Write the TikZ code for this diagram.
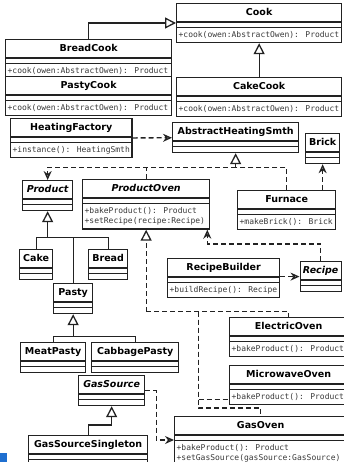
\documentclass[tikz,border=0pt]{standalone}
\usepackage{fontspec}
\setmainfont{DejaVu Sans}
\newfontfamily\opfamily{DejaVu Sans Mono}
\usepackage{xcolor}
\definecolor{lineDark}{HTML}{222222}
\definecolor{opGray}{HTML}{3A3A3A}
\definecolor{markBlue}{HTML}{1F6FD0}
\usetikzlibrary{
    shapes.multipart,
    arrows.meta,
    positioning,
    calc
}
\newcommand{\namefont}{\fontsize{9.5}{12}\selectfont\bfseries}
\newcommand{\cname}[1]{{\namefont\rule[-3.5pt]{0pt}{13pt}#1}}
\newcommand{\aname}[1]{{\namefont\itshape\rule[-3.5pt]{0pt}{13pt}#1}}
\newcommand{\op}{\opfamily\fontsize{8}{9}\selectfont\color{opGray}\rule[-2.5pt]{0pt}{9.5pt}}
\newcommand{\twoops}[2]{\vtop{\baselineskip=8.6pt\hbox{\op#1}\hbox{\op#2}}}
\newcommand{\noattr}{\rule{0pt}{0.5pt}}
\tikzset{
    % Class box - name, attributes, operations
    umlclass/.style={
        rectangle split,
        rectangle split parts=3,
        rectangle split part align={center,left,left},
        draw=lineDark,
        line width=1.3pt,
        fill=white,
        inner xsep=2pt,
        inner ysep=2pt,
        anchor=north west,
        minimum width=#1,
    },
    % Plain connector
    link/.style={
        draw=lineDark,
        line width=1.3pt,
    },
    % Dashed connector without tip
    dline/.style={
        link,
        dash pattern=on 5pt off 3pt,
    },
    % Generalisation - open triangle
    inherit/.style={
        link,
        -{Triangle[open, length=11pt, width=11pt, fill=white]},
    },
    % Realisation - dashed, open triangle
    realize/.style={
        inherit,
        dash pattern=on 5pt off 3pt,
    },
    % Dependency - dashed, open arrow
    depend/.style={
        dline,
        -{Stealth[open, length=9pt, width=8pt]},
    },
}
\begin{document}
\begin{tikzpicture}[x=1pt, y=-1pt]
    \useasboundingbox (0,0) rectangle (344,462);

    \node[umlclass=165pt] (cook) at (176,3) {\cname{Cook}\nodepart{two}\noattr\nodepart{three}\op+cook(owen:AbstractOwen): Product};
    \node[umlclass=166pt] (breadcook) at (5,39) {\cname{BreadCook}\nodepart{two}\noattr\nodepart{three}\op+cook(owen:AbstractOwen): Product};
    \node[umlclass=166pt] (pastycook) at (5,76) {\cname{PastyCook}\nodepart{two}\noattr\nodepart{three}\op+cook(owen:AbstractOwen): Product};
    \node[umlclass=165pt] (cakecook) at (176,77) {\cname{CakeCook}\nodepart{two}\noattr\nodepart{three}\op+cook(owen:AbstractOwen): Product};
    \node[umlclass=121pt] (heatingfactory) at (10,118) {\cname{HeatingFactory}\nodepart{two}\noattr\nodepart{three}\op+instance(): HeatingSmth};
    \node[umlclass=126pt] (abstractheating) at (172,122) {\cname{AbstractHeatingSmth}\nodepart{two}\noattr\nodepart{three}\noattr};
    \node[umlclass=34pt] (brick) at (305,133) {\cname{Brick}\nodepart{two}\noattr\nodepart{three}\noattr};
    \node[umlclass=98pt] (furnace) at (237,190) {\cname{Furnace}\nodepart{two}\noattr\nodepart{three}\op+makeBrick(): Brick};
    \node[umlclass=50pt] (product) at (22,180) {\aname{Product}\nodepart{two}\noattr\nodepart{three}\noattr};
    \node[umlclass=127pt] (productoven) at (82,179) {\aname{ProductOven}\nodepart{two}\noattr\nodepart{three}\twoops{+bakeProduct(): Product}{+setRecipe(recipe:Recipe)}};
    \node[umlclass=33pt] (cake) at (19,249) {\cname{Cake}\nodepart{two}\noattr\nodepart{three}\noattr};
    \node[umlclass=39pt] (bread) at (88,249) {\cname{Bread}\nodepart{two}\noattr\nodepart{three}\noattr};
    \node[umlclass=39pt] (pasty) at (53,283) {\cname{Pasty}\nodepart{two}\noattr\nodepart{three}\noattr};
    \node[umlclass=65pt] (meatpasty) at (20,342) {\cname{MeatPasty}\nodepart{two}\noattr\nodepart{three}\noattr};
    \node[umlclass=87pt] (cabbagepasty) at (91,342) {\cname{CabbagePasty}\nodepart{two}\noattr\nodepart{three}\noattr};
    \node[umlclass=112pt] (recipebuilder) at (167,258) {\cname{RecipeBuilder}\nodepart{two}\noattr\nodepart{three}\op+buildRecipe(): Recipe};
    \node[umlclass=41pt] (recipe) at (299.5,261) {\aname{Recipe}\nodepart{two}\noattr\nodepart{three}\noattr};
    \node[umlclass=118pt] (electricoven) at (229,317) {\cname{ElectricOven}\nodepart{two}\noattr\nodepart{three}\op+bakeProduct(): Product};
    \node[umlclass=118pt] (microwaveoven) at (229,365) {\cname{MicrowaveOven}\nodepart{two}\noattr\nodepart{three}\op+bakeProduct(): Product};
    \node[umlclass=172pt] (gasoven) at (174,416) {\cname{GasOven}\nodepart{two}\noattr\nodepart{three}\twoops{+bakeProduct(): Product}{+setGasSource(gasSource:GasSource)}};
    \node[umlclass=66pt] (gassource) at (78,375) {\aname{GasSource}\nodepart{two}\noattr\nodepart{three}\noattr};
    \node[umlclass=119pt] (gassourcesingleton) at (28,435) {\cname{GasSourceSingleton}\nodepart{two}\noattr\nodepart{three}\noattr};

    \coordinate[below=14pt of abstractheating.south] (heatj);
    \coordinate[below=26pt of product.south] (prodj);
    \coordinate[below=22pt of pasty.south] (pastyj);
    \coordinate[below=82pt of productoven.south] (ovenj);
    \coordinate[right=52pt of ovenj] (ovenk);

    \draw[inherit] (breadcook.north) |- ([yshift=-20pt]cook.north west);
    \draw[inherit] (cakecook) -- (cook);
    \draw[depend] (heatingfactory) -- (abstractheating);
    \draw[realize] (heatj) -- (abstractheating.south);
    \draw[dline] (furnace.north) |- (heatj);
    \draw[dline] (productoven.north) -- (productoven.north |- heatj);
    \draw[depend] (heatj) -| (product.north);
    \draw[depend] (brick.south |- furnace.north) -- (brick.south);
    \draw[inherit] (prodj) -- (product.south);
    \draw[link] (cake.north) |- (prodj) -| (bread.north);
    \draw[link] (pasty.north) -- (pasty.north |- prodj);
    \draw[inherit] (pastyj) -- (pasty.south);
    \draw[link] (meatpasty.north) |- (pastyj) -| (cabbagepasty.north);
    \draw[realize] (ovenj) -- (productoven.south);
    \draw[dline] (ovenj) -| (electricoven.north);
    \draw[dline] (ovenk) |- ([yshift=6pt]microwaveoven.south west);
    \draw[dline] (ovenk) |- ([yshift=8pt]gasoven.north) -- (gasoven.north);
    \draw[depend] (recipebuilder.east |- recipe.west) -- (recipe.west);
    \draw[depend] (recipe.north) -- ++(0,-17) -| ([xshift=-3pt]productoven.south east);
    \draw[inherit] (gassourcesingleton.north) -- ++(0,-10) -| (gassource.south);
    \draw[depend] (gassource.east) -- ++(11,0) |- ([yshift=-24pt]gasoven.north west);

    \fill[markBlue] (0,453) rectangle (7,462);
\end{tikzpicture}
\end{document}
